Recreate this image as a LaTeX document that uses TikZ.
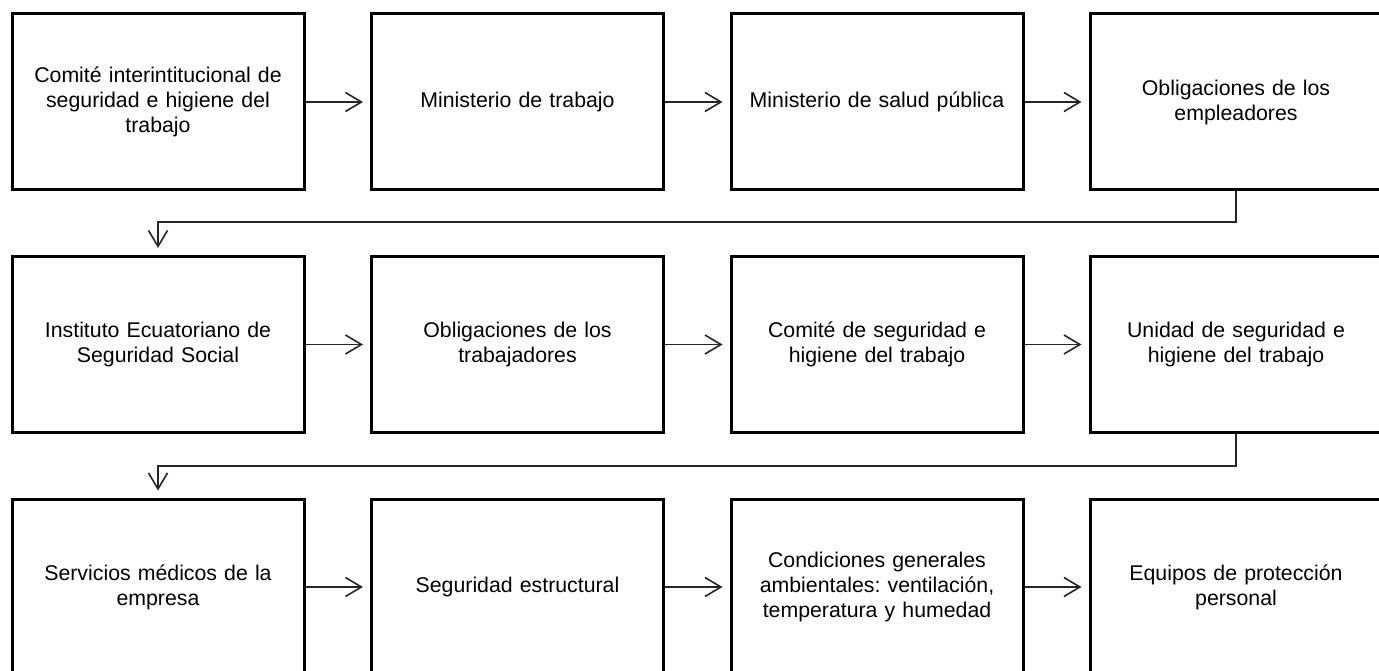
\documentclass[tikz,border=0pt]{standalone}
\usepackage{fontspec}
\setmainfont{Liberation Sans}
\usetikzlibrary{arrows.meta}
\frenchspacing
\begin{document}
\begin{tikzpicture}[x=1pt,y=-1pt,
  box/.style={draw=black, line width=3pt, minimum width=292pt, minimum height=176pt,
    inner sep=0pt, align=center, text width=275pt,
    font=\fontsize{21.3pt}{25pt}\selectfont},
  conn/.style={draw=black!85, line width=1.6pt,
    -{Straight Barb[length=16pt,width=19pt,line width=1.6pt]}, shorten >=7pt}]
\clip (0,0) rectangle (1379,671);
\fill[white] (0,0) rectangle (1379,671);
% row 1
\node[box] (a1) at (158,102) {Comité interintitucional de\\seguridad e higiene del\\trabajo};
\node[box] (a2) at (517.5,102) {Ministerio de trabajo};
\node[box] (a3) at (877,102) {Ministerio de salud pública};
\node[box] (a4) at (1236,102) {Obligaciones de los\\empleadores};
% row 2
\node[box] (b1) at (158,344.5) {Instituto Ecuatoriano de\\Seguridad Social};
\node[box] (b2) at (517.5,344.5) {Obligaciones de los\\trabajadores};
\node[box] (b3) at (877,344.5) {Comité de seguridad e\\higiene del trabajo};
\node[box] (b4) at (1236,344.5) {Unidad de seguridad e\\higiene del trabajo};
% row 3
\node[box] (c1) at (158,587) {Servicios médicos de la\\empresa};
\node[box] (c2) at (517.5,587) {Seguridad estructural};
\node[box] (c3) at (877,587) {Condiciones generales\\ambientales: ventilación,\\temperatura y humedad};
\node[box] (c4) at (1236,587) {Equipos de protección\\personal};
% horizontal connectors
\draw[conn] (a1.east) -- (a2.west);
\draw[conn] (a2.east) -- (a3.west);
\draw[conn] (a3.east) -- (a4.west);
\draw[conn] (b1.east) -- (b2.west);
\draw[conn] (b2.east) -- (b3.west);
\draw[conn] (b3.east) -- (b4.west);
\draw[conn] (c1.east) -- (c2.west);
\draw[conn] (c2.east) -- (c3.west);
\draw[conn] (c3.east) -- (c4.west);
% row connectors
\coordinate (r1) at (1236,222);
\coordinate (r2) at (1236,466);
\draw[conn] (a4.south) -- (r1) -| (b1.north);
\draw[conn] (b4.south) -- (r2) -| (c1.north);
\end{tikzpicture}
\end{document}
